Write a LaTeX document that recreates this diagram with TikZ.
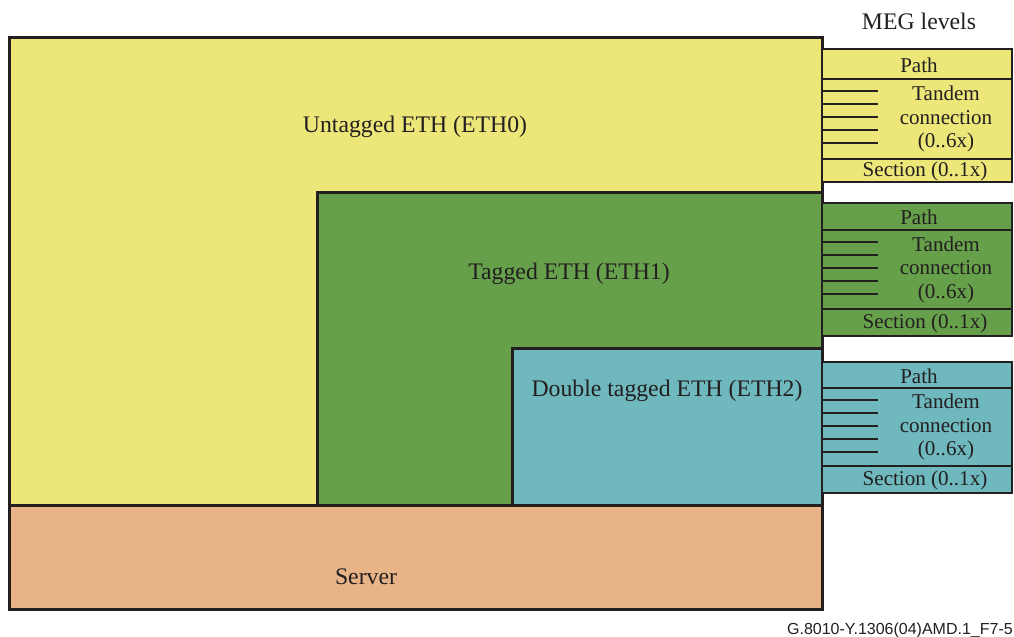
\documentclass[tikz,border=0pt]{standalone}
\usepackage{fontspec}
\setmainfont{Liberation Serif}
\newfontfamily\figfont{Liberation Sans}
\definecolor{ethyellow}{RGB}{237,231,122}
\definecolor{ethgreen}{RGB}{102,160,74}
\definecolor{ethcyan}{RGB}{110,184,190}
\definecolor{serverorange}{RGB}{232,179,135}
\definecolor{linegray}{RGB}{35,31,32}

\begin{document}
\begin{tikzpicture}[x=0.75pt,y=-0.75pt]
\tikzstyle{every node}+=[inner sep=0pt]
\tikzset{bigtext/.style={font=\fontsize{17.8}{21}\selectfont, text=linegray},
  smalltext/.style={font=\fontsize{15.8}{17.6}\selectfont, align=center, text=linegray},
  frame/.style={draw=linegray, line width=2.25pt},
  panel/.style={draw=linegray, line width=1.5pt},
  tick/.style={draw=linegray, line width=0.9pt}}
\useasboundingbox (0,0) rectangle (1014,636);
\draw [frame, fill=ethyellow] (9,37) rectangle (822,505);
\draw [frame, fill=ethgreen] (317,192) rectangle (822,505);
\draw [frame, fill=ethcyan] (512,348) rectangle (822,505);
\draw [frame, fill=serverorange] (9,505) rectangle (822,609);
\node [bigtext] (eth0) at (415,127) {Untagged ETH (ETH0)};
\node [bigtext] (eth1) at (569,274) {Tagged ETH (ETH1)};
\node [bigtext] (eth2) at (667,391) {Double tagged ETH (ETH2)};
\node [bigtext] (server) at (366,577) {Server};
\node [bigtext] (meg) at (919,21) {MEG levels};
\foreach \n/\c/\t/\p/\s/\b in {0/ethyellow/49/79/159/182, 1/ethgreen/203/230/309/336, 2/ethcyan/362/388/466/493} {
  \draw [panel, fill=\c] (822,\t) rectangle (1012,\b);
  \draw [panel] (822,\p) -- (1012,\p);
  \draw [panel] (822,\s) -- (1012,\s);
  \foreach \k in {1,...,5}
    \draw [tick] (822,\p+13*\k-1) -- (878,\p+13*\k-1);
  \node [smalltext] (path\n) at (919,{(\t+\p)/2+1}) {Path};
  \node [smalltext] (tandem\n) at (946,{(\p+\s)/2}) {Tandem\\connection\\(0..6x)};
  \node [smalltext] (section\n) at (925,{(\s+\b)/2+1}) {Section (0..1x)};
}
\node [font=\figfont\fontsize{12}{14}\selectfont, text=linegray, anchor=base east] (figid) at (1013,634) {G.8010-Y.1306(04)AMD.1\_F7-5};
\end{tikzpicture}
\end{document}
